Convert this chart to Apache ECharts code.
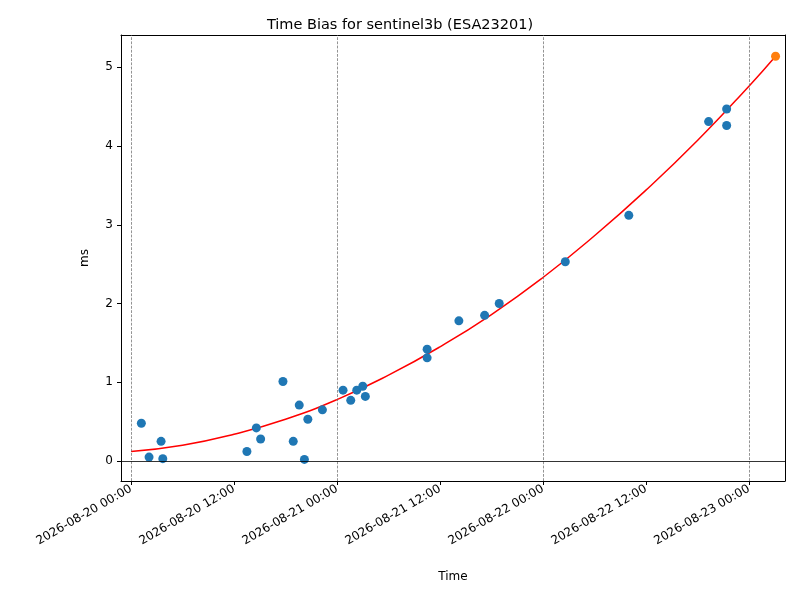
<!DOCTYPE html>
<html>
<head>
<meta charset="utf-8">
<script src="https://cdn.jsdelivr.net/npm/echarts@6/dist/echarts.min.js"></script>
<style>html,body{margin:0;padding:0;background:#fff}#container{width:800px;height:600px}</style>
</head>
<body>
<div id="container"></div>
<script>
// hours since 2026-08-20 00:00
var obsHours = [1.2, 2.1, 3.5, 3.7, 13.5, 14.6, 15.1, 17.7, 18.9, 19.6, 20.2, 20.6, 22.3,
    24.7, 25.6, 26.3, 27.0, 27.3, 34.5, 34.5, 38.2, 41.2, 42.9, 50.6, 58.0, 67.3, 69.4, 69.4];
var obsBias = [0.48, 0.05, 0.25, 0.03, 0.12, 0.42, 0.28, 1.01, 0.25, 0.71, 0.02, 0.53, 0.65,
    0.90, 0.77, 0.90, 0.95, 0.82, 1.42, 1.31, 1.78, 1.85, 2.00, 2.53, 3.12, 4.31, 4.47, 4.26];
var predHours = [75.1];
var predBias = [5.14];
var fitHours = [0, 6, 12, 18, 24, 30, 36, 42, 48, 54, 60, 66, 72, 75.1];
var fitBias = [0.12, 0.20, 0.34, 0.53, 0.78, 1.09, 1.45, 1.86, 2.33, 2.86, 3.44, 4.07, 4.76, 5.14];
var xTicks = [0, 12, 24, 36, 48, 60, 72];
var yTicks = [0, 1, 2, 3, 4, 5];

function zip(a, b) { return a.map(function (v, i) { return [v, b[i]]; }); }
function fmt(h) {
    var d = 20 + Math.floor(h / 24), hr = Math.round(h % 24);
    return '2026-08-' + d + ' ' + (hr < 10 ? '0' : '') + hr + ':00';
}

var myChart = echarts.init(document.getElementById('container'));
var font = 'DejaVu Sans';
var black = { color: '#000', width: 1 };
option = {
    animation: false,
    title: {
        text: 'Time Bias for sentinel3b (ESA23201)',
        left: 'center', top: 13,
        textStyle: { fontFamily: font, fontWeight: 'normal', fontSize: 14.5, color: '#000' }
    },
    grid: { left: 121, right: 15, top: 35, bottom: 119 },
    xAxis: [{
        type: 'value', min: -1.17, max: 76.2,
        name: 'Time', nameLocation: 'middle', nameGap: 90,
        nameTextStyle: { fontFamily: font, fontSize: 12, color: '#000' },
        axisLine: { onZero: false, lineStyle: black },
        axisTick: { customValues: xTicks, length: 4, lineStyle: black },
        axisLabel: { customValues: xTicks, rotate: 30, margin: 7, fontFamily: font, fontSize: 12, color: '#000',
            formatter: fmt },
        splitLine: { show: false }
    }, {
        type: 'value', position: 'top', min: -1.17, max: 76.2,
        axisLine: { onZero: false, lineStyle: black },
        axisTick: { show: false }, axisLabel: { show: false }, splitLine: { show: false }
    }],
    yAxis: [{
        type: 'value', min: -0.254, max: 5.41,
        name: 'ms', nameLocation: 'middle', nameGap: 30, nameRotate: 90,
        nameTextStyle: { fontFamily: font, fontSize: 12, color: '#000' },
        axisLine: { show: true, onZero: false, lineStyle: black },
        axisTick: { show: true, customValues: yTicks, length: 4, lineStyle: black },
        axisLabel: { customValues: yTicks, fontFamily: font, fontSize: 12, color: '#000' },
        splitLine: { show: false }
    }, {
        type: 'value', position: 'right', min: -0.254, max: 5.41,
        axisLine: { show: true, onZero: false, lineStyle: black },
        axisTick: { show: false }, axisLabel: { show: false }, splitLine: { show: false }
    }],
    series: [
        {
            type: 'line', data: zip(fitHours, fitBias), smooth: true, showSymbol: false,
            lineStyle: { color: '#ff0000', width: 1.5 }, z: 2,
            markLine: {
                silent: true, symbol: 'none', label: { show: false },
                data: [
                    { xAxis: 0, lineStyle: { color: '#666', type: 'dashed', width: 0.7 } },
                    { xAxis: 24, lineStyle: { color: '#666', type: 'dashed', width: 0.7 } },
                    { xAxis: 48, lineStyle: { color: '#666', type: 'dashed', width: 0.7 } },
                    { xAxis: 72, lineStyle: { color: '#666', type: 'dashed', width: 0.7 } },
                    { yAxis: 0, lineStyle: { color: '#000', type: 'solid', width: 0.8 } }
                ]
            }
        },
        {
            type: 'scatter', data: zip(obsHours, obsBias), symbolSize: 9,
            itemStyle: { color: '#1f77b4', opacity: 1 }, z: 3
        },
        {
            type: 'scatter', data: zip(predHours, predBias), symbolSize: 9,
            itemStyle: { color: '#ff7f0e', opacity: 1 }, z: 4
        }
    ]
};
myChart.setOption(option);
</script>
</body>
</html>
